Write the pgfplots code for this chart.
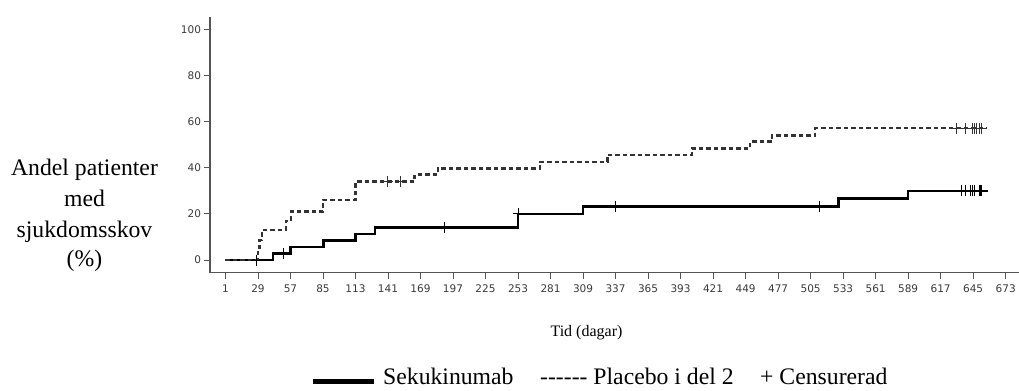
\documentclass[border=0pt]{standalone}
\usepackage{fontspec}
\setmainfont{Liberation Serif}
\newfontfamily\tickfont{DejaVu Sans}
\usepackage{pgfplots}
\pgfplotsset{compat=1.18}
\definecolor{axgray}{HTML}{555555}
\definecolor{lblgray}{HTML}{3A3A3A}
\definecolor{dashgray}{HTML}{333333}
\begin{document}
\begin{tikzpicture}[x=1bp,y=1bp]
\path[use as bounding box] (0,0) rectangle (1019,390);
\begin{axis}[
  at={(210bp,117.3bp)}, anchor=south west,
  scale only axis, width=809bp, height=255.4bp,
  xmin=-12.3, xmax=684.5, ymin=-5.5, ymax=105.2,
  axis x line*=bottom, axis y line*=left,
  axis line style={-, draw=axgray, line width=1.2bp},
  xtick={1,29,...,673}, ytick={0,20,...,100},
  tick align=outside, major tick length=6.5bp,
  tick style={line width=0.9bp, draw=axgray},
  /pgf/number format/assume math mode=true,
  ticklabel style={font=\tickfont\fontsize{10.5bp}{12bp}\selectfont, text=lblgray},
  xticklabel style={yshift=-2bp},
  yticklabel style={xshift=1bp},
]
% Sekukinumab
\addplot[const plot, black, line width=2.2bp] coordinates {
 (1,0) (42,2.8) (57,5.6) (85.5,8.5) (113,11.3) (130,14.1) (253,20.1)
 (309,23.2) (529,26.7) (589,30.0) (658,30.0)};
\addplot[only marks, mark=+, mark size=5.5bp, black, mark options={line width=0.9bp}] coordinates {
 (28,0) (51,2.8) (189.5,14.1) (253,20.1) (337,23.2) (512.5,23.2)
 (635,30.0) (638,30.0) (643,30.0) (644.5,30.0) (646,30.0) (650,30.0) (651,30.0) (652.5,30.0)};
% Placebo i del 2
\addplot[const plot, dashgray, line width=2.4bp, dash pattern=on 4.5bp off 3bp] coordinates {
 (1,0) (29,4.3) (30.5,8.7) (32.5,13.0) (53,17.0) (57.5,21.0) (85,26.0)
 (113,34.0) (164,37.0) (184,39.7) (272,42.6) (330,45.5) (403,48.4)
 (453,51.3) (472,53.9) (509,57.1) (657,57.1)};
\addplot[only marks, mark=+, mark size=5.5bp, dashgray, mark options={line width=0.9bp, solid}] coordinates {
 (140.7,34.0) (151.4,34.0)
 (631,57.1) (638.5,57.1) (644,57.1) (646,57.1) (648,57.1) (650,57.1) (652,57.1)};
\end{axis}
% y label
\begin{scope}[every node/.style={inner sep=0pt, anchor=base, font=\fontsize{23.7bp}{28bp}\selectfont}]
\node at (84.5,215) {Andel patienter};
\node at (84.5,184) {med};
\node at (84.5,153) {sjukdomsskov};
\node at (84.5,124) {(\%)};
\end{scope}
% x label
\node[inner sep=0pt, anchor=base, font=\fontsize{16bp}{19bp}\selectfont] at (586.5,54) {Tid (dagar)};
% legend
\fill[black] (313,5.7) rectangle (374,10.7);
\begin{scope}[every node/.style={inner sep=0pt, anchor=base west, font=\fontsize{23.7bp}{28bp}\selectfont}]
\node at (383,6) {Sekukinumab};
\node at (540,6) {-{}-{}-{}-{}-{}- Placebo i del 2};
\node at (760,6) {+ Censurerad};
\end{scope}
\end{tikzpicture}
\end{document}
